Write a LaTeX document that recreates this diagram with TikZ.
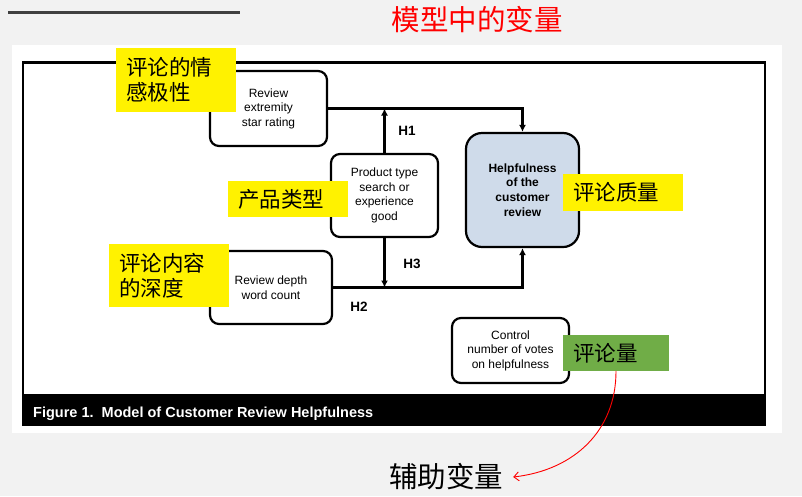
\documentclass[tikz,border=0pt]{standalone}
\usepackage{fontspec}
\setmainfont{Liberation Sans}
\newfontfamily\cjk{Noto Sans CJK SC}
\usetikzlibrary{arrows.meta}
\definecolor{pagegray}{HTML}{F2F2F2}
\definecolor{darkline}{HTML}{404040}
\definecolor{helpblue}{HTML}{CFDBEA}
\definecolor{votegreen}{HTML}{70AD47}

\begin{document}
\begin{tikzpicture}[x=1pt, y=-1pt,
  every node/.style={font=\fontsize{12}{14.6}\selectfont},
  varbox/.style={draw, line width=2.2pt, rounded corners=9pt, align=center, inner sep=0pt},
  cnlabel/.style={fill=yellow, text width=100pt, inner xsep=10pt, inner ysep=0pt, align=left,
    font=\cjk\fontsize{21.5}{25}\selectfont},
  hyp/.style={font=\bfseries\fontsize{13.5}{16}\selectfont},
  link/.style={line width=2.2pt, -{Latex[length=7pt,width=7pt]}}]
  \fill[pagegray] (0,0) rectangle (802,496);
  \draw[line width=3pt, darkline] (8,12) -- (240,12);
  \node[red, font=\cjk\fontsize{28.5}{32}\selectfont] (ttl) at (477,20) {模型中的变量};
  % figure panel
  \fill[white] (12,45) rectangle (782,433);
  \fill (23,394) rectangle (765,425);
  \draw[line width=2pt] (23,62) rectangle (765,425);
  \draw[line width=3pt] (23,62) -- (765,62);
  \node[white, anchor=base west, inner sep=0pt, font=\bfseries\fontsize{14.5}{16}\selectfont] (cap) at (33,417)
    {Figure 1.\ \ Model of Customer Review Helpfulness};
  % variables
  \node[varbox, minimum width=117pt, minimum height=75pt] (ext) at (268.5,108.5) {Review\\extremity\\star rating};
  \node[varbox, minimum width=107pt, minimum height=83pt] (prod) at (384.5,195.5) {Product type\\search or\\experience\\good};
  \node[varbox, fill=helpblue, rounded corners=16pt, minimum width=113pt, minimum height=114pt,
    font=\bfseries\fontsize{12}{14.6}\selectfont] (help) at (522.5,190) {Helpfulness\\of the\\customer\\review};
  \node[varbox, minimum width=122pt, minimum height=73pt] (dep) at (271,287.5) {Review depth\\word count};
  \node[varbox, minimum width=117pt, minimum height=65pt] (ctl) at (510.5,350.5) {Control\\number of votes\\on helpfulness};
  \draw[link] (ext.east) -| (help.north);
  \draw[link] (dep.east) -| (help.south);
  \draw[link] (prod.north) -- (prod.north |- ext.east);
  \draw[link] (prod.south) -- (prod.south |- dep.east);
  \node[hyp] (h1) at (407,131) {H1};
  \node[hyp] (h3) at (412,264) {H3};
  \node[hyp] (h2) at (359,307) {H2};
  % annotations
  \node[cnlabel, minimum height=64pt] (lblpol) at (176,80) {评论的情\\感极性};
  \node[cnlabel, minimum height=36pt] (lbltype) at (288,199) {产品类型};
  \node[cnlabel, minimum height=63pt] (lbldepth) at (169,275.5) {评论内容\\的深度};
  \node[cnlabel, minimum height=37pt] (lblqual) at (623,192.5) {评论质量};
  \node[cnlabel, fill=votegreen, text width=86pt, minimum height=36pt] (lblvotes) at (616,353) {评论量};
  \node[inner sep=0pt, font=\cjk\fontsize{28.5}{32}\selectfont] (aux) at (446,477) {辅助变量};
  \draw[red, line width=0.9pt, -{Straight Barb[length=5pt,width=9pt]}]
    (lblvotes.south) .. controls (616,430) and (575,470) .. ([xshift=10pt]aux.east);
\end{tikzpicture}
\end{document}
